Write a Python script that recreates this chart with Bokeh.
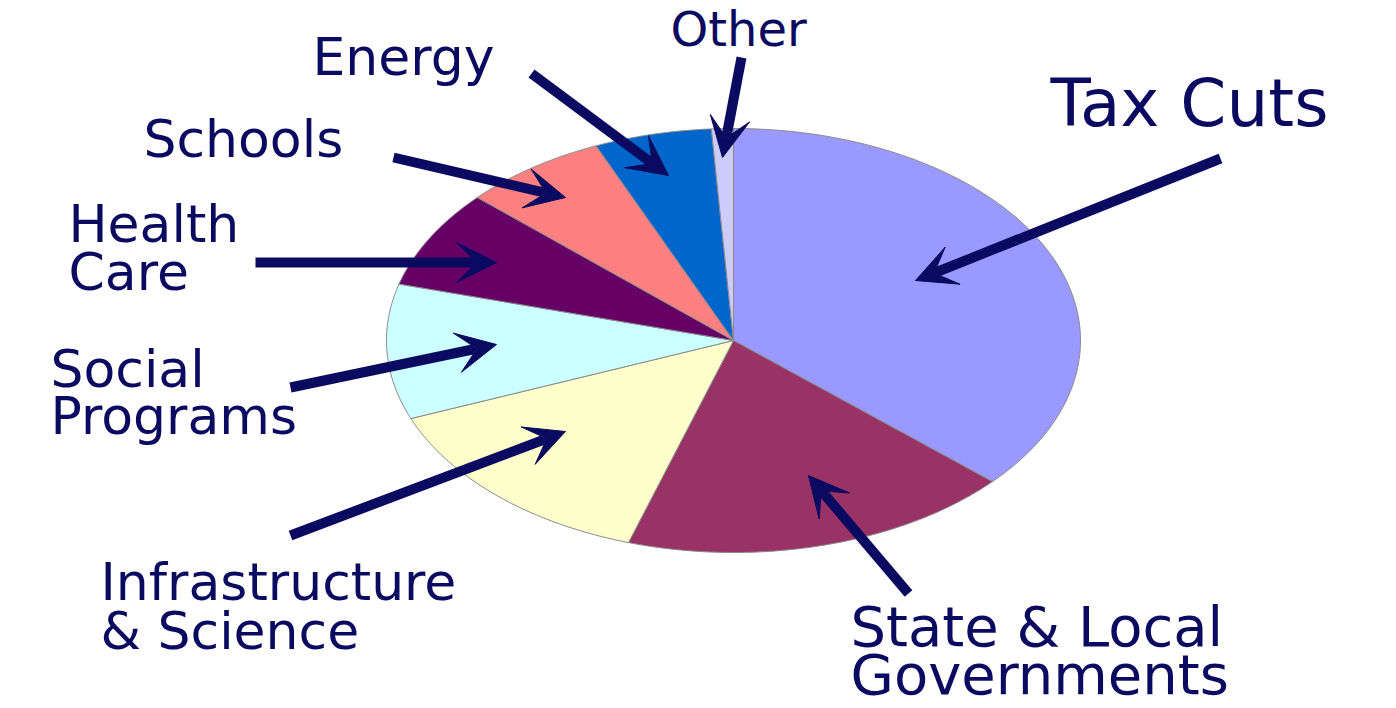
import numpy as np
from bokeh.plotting import figure
from bokeh.models import ColumnDataSource, Range1d, Arrow, VeeHead
from bokeh.core.properties import value
from bokeh.embed import file_html
from bokeh.resources import INLINE

# ---------------- data ----------------
categories = ["Tax Cuts", "State & Local Governments", "Infrastructure & Science",
              "Social Programs", "Health Care", "Schools", "Energy", "Other"]
values = [288, 144, 111, 81, 59, 53, 43, 8]
colors = ["#9999FF", "#993366", "#FFFFCC", "#CCFFFF",
          "#660066", "#FF8080", "#0066CC", "#CCCCFF"]
label_lines = [["Tax Cuts"], ["State & Local", "Governments"],
               ["Infrastructure", "& Science"], ["Social", "Programs"],
               ["Health", "Care"], ["Schools"], ["Energy"], ["Other"]]

# ---------------- layout (page pixels) ----------------
PIE_CX, PIE_CY, PIE_RX, PIE_RY = 733, 340, 347, 212
NAVY = "#0a0a60"
BASE_SHIFT = 0.36  # em offset to put the alphabetic baseline where wanted
label_pos = [  # left x, first baseline y, font px, line pitch
    (1050, 127, 66, 0),
    (850, 646, 56, 48),
    (100, 600, 52, 49),
    (50, 387, 52, 47),
    (68, 242, 52, 48),
    (143, 157, 52, 0),
    (312, 75, 52, 0),
    (670, 46, 48, 0),
]
arrow_pos = [  # tail x, tail y, head x, head y
    (1220, 158, 915, 280),
    (908, 593, 808, 475),
    (290, 535, 565, 431),
    (290, 387, 496, 344),
    (255, 262, 496, 262),
    (393, 157, 565, 197),
    (531, 73, 668, 175),
    (741, 57, 722, 157),
]

W, H = 1396, 708
p = figure(width=W, height=H, x_range=Range1d(0, W), y_range=Range1d(H, 0),
           output_backend="svg", toolbar_location=None, min_border=0,
           x_axis_type=None, y_axis_type=None)
p.grid.visible = False
p.outline_line_color = None
p.background_fill_color = "white"

# pie slices (elliptical), clockwise from 12 o'clock
total = float(sum(values))
frac = np.array(values, dtype=float) / total
ends = np.cumsum(frac)
starts = ends - frac
xs, ys = [], []
for s, e in zip(starts, ends):
    n = max(4, int(600 * (e - s)) + 2)
    th = np.pi / 2 - 2 * np.pi * np.linspace(s, e, n)
    xs.append([PIE_CX] + list(PIE_CX + PIE_RX * np.cos(th)) + [PIE_CX])
    ys.append([PIE_CY] + list(PIE_CY - PIE_RY * np.sin(th)) + [PIE_CY])
pie_src = ColumnDataSource(dict(xs=xs, ys=ys, color=colors, name=categories, val=values))
p.patches("xs", "ys", source=pie_src, fill_color="color", line_color="#8a8a8a", line_width=1)

# arrows
arr_src = ColumnDataSource(dict(
    x0=[a[0] for a in arrow_pos], y0=[a[1] for a in arrow_pos],
    x1=[a[2] for a in arrow_pos], y1=[a[3] for a in arrow_pos]))
p.add_layout(Arrow(end=VeeHead(size=40, fill_color=NAVY, line_color=NAVY, line_width=1),
                   x_start="x0", y_start="y0", x_end="x1", y_end="y1",
                   line_color=NAVY, line_width=10, source=arr_src))

# labels
tx, ty, tt, ts = [], [], [], []
for lines, (lx, ly, fs, pitch) in zip(label_lines, label_pos):
    for j, line in enumerate(lines):
        tx.append(lx)
        ty.append(ly + j * pitch - BASE_SHIFT * fs)
        tt.append(line)
        ts.append(f"{fs}px")
txt_src = ColumnDataSource(dict(x=tx, y=ty, text=tt, size=ts))
p.text("x", "y", text="text", source=txt_src, text_font=value("DejaVu Sans"),
       text_font_size="size", text_color=NAVY, text_align="left",
       text_baseline="alphabetic")

open("out.html", "w").write(file_html(p, INLINE))
